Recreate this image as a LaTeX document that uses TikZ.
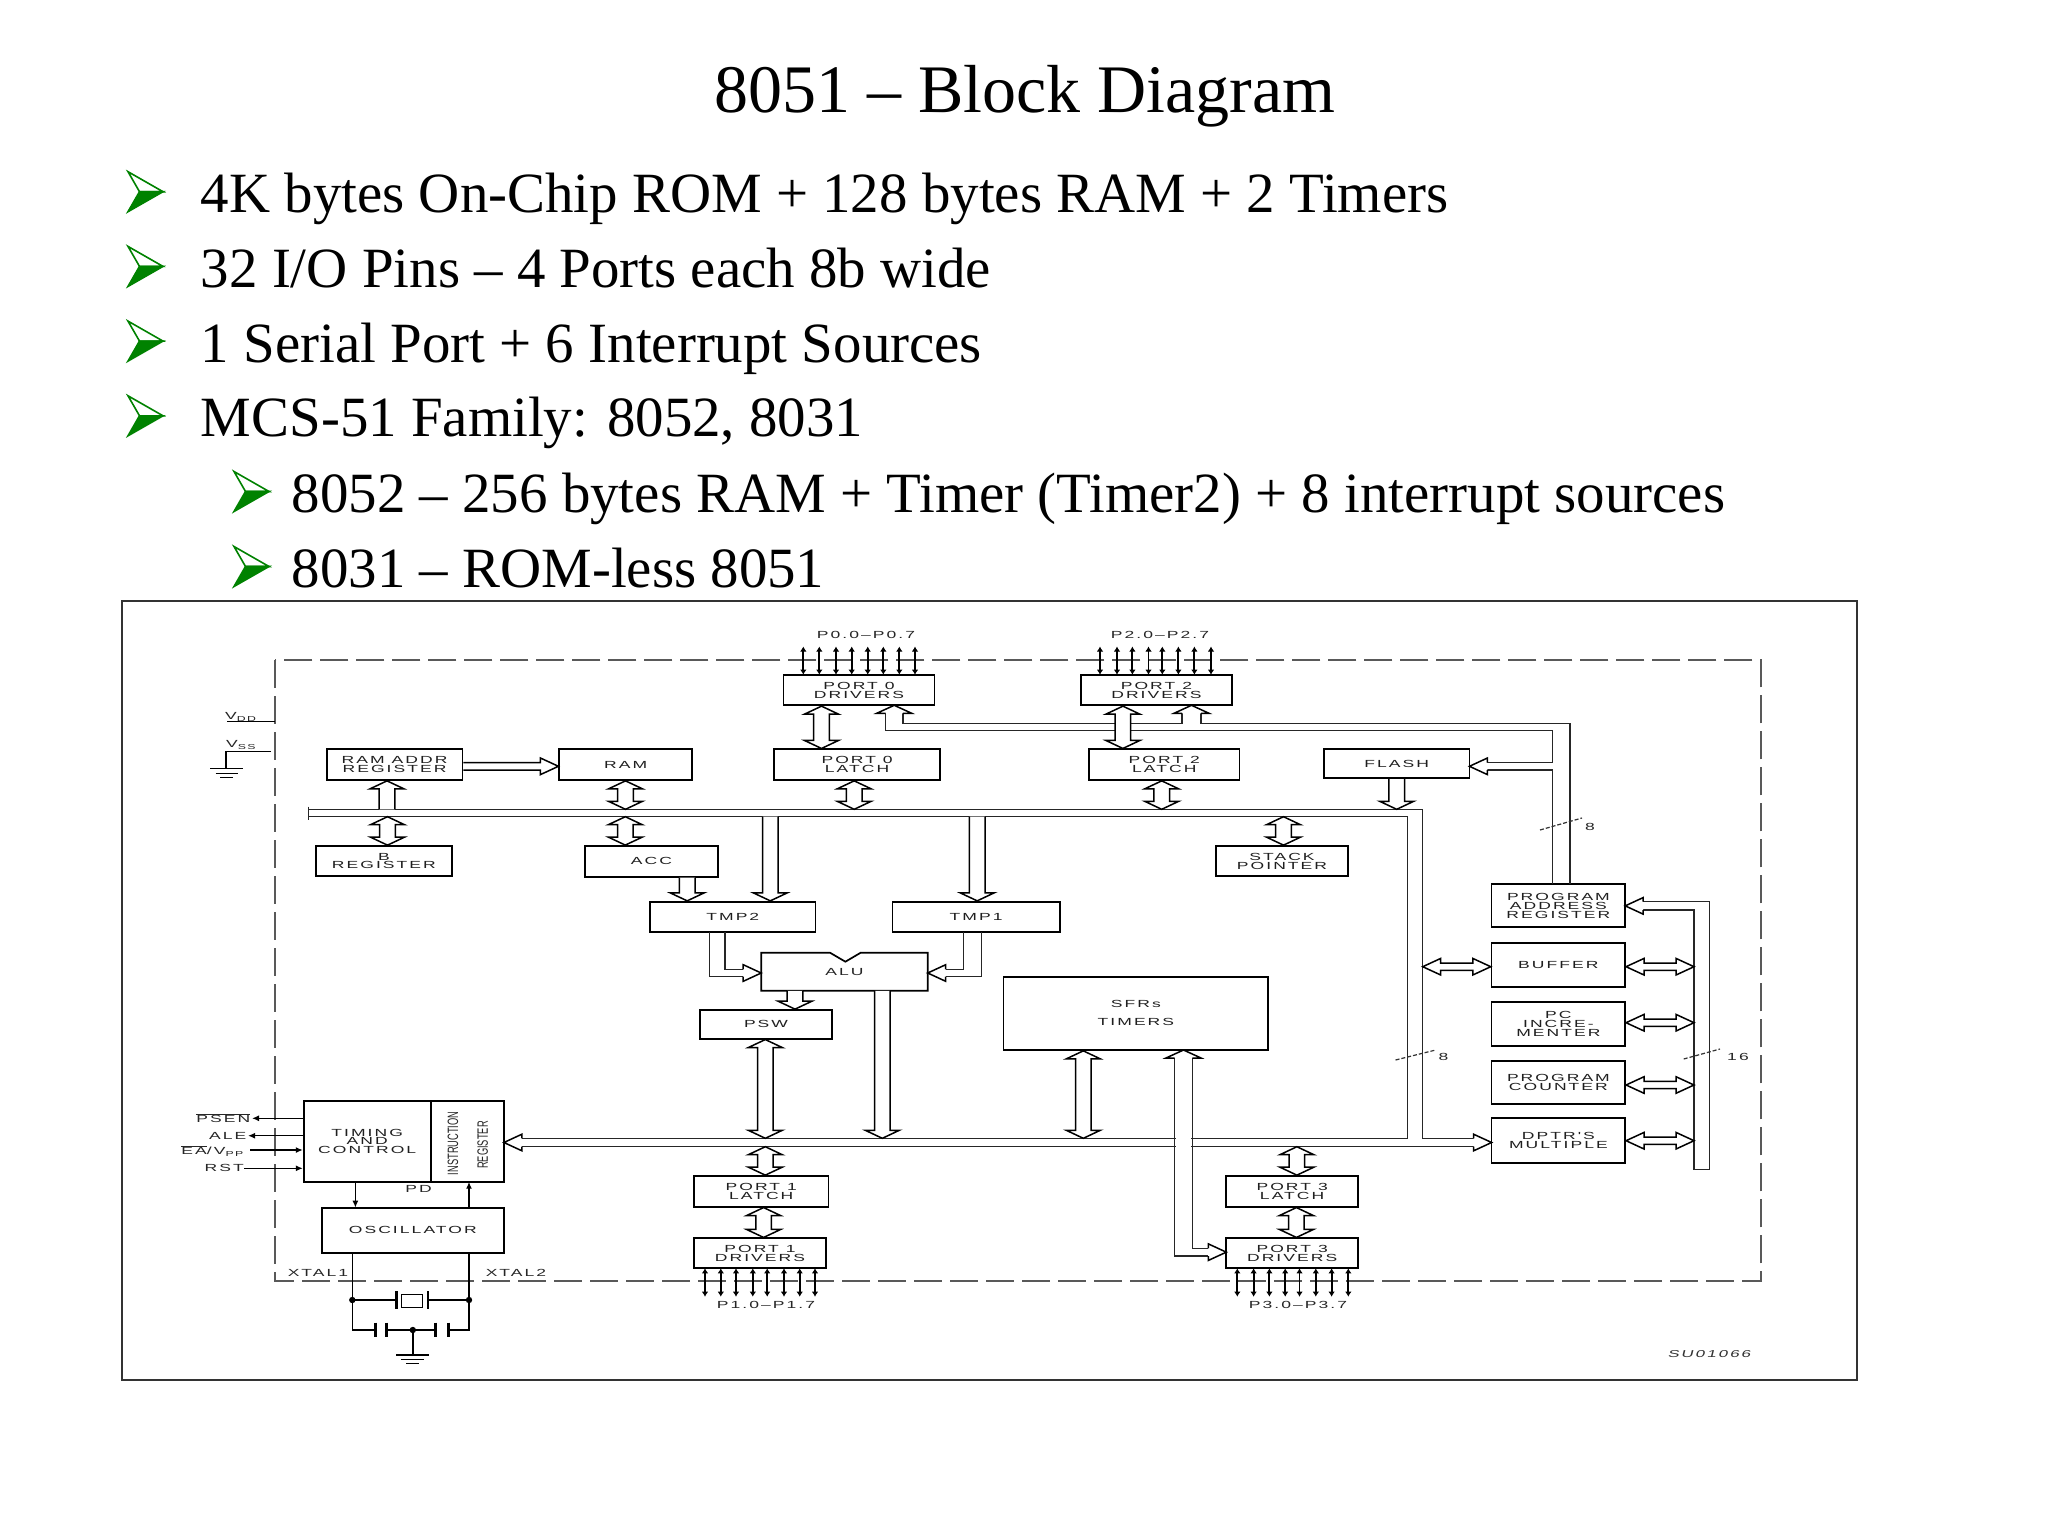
\documentclass[tikz,border=0pt]{standalone}
\usepackage{fontspec}
\setmainfont{Liberation Serif}
\newfontfamily\diagfont[FakeStretch=1.7,LetterSpace=20]{Liberation Sans}
\newfontfamily\diagitfont[FakeStretch=1.7,LetterSpace=20,FakeSlant=0.25]{Liberation Sans}
\newfontfamily\narrowfont[FakeStretch=0.62]{Liberation Sans}
\usetikzlibrary{arrows.meta,calc}
\definecolor{bgreen}{RGB}{0,130,0}
\newcommand\dgf{\diagfont\fontsize{10.3}{8.9}\selectfont}
\newcommand\dgif{\diagitfont\fontsize{10}{8.8}\selectfont}
\newcommand\irf{\narrowfont\fontsize{15}{15}\selectfont}
\newcommand\titf{\fontsize{68}{70}\selectfont}
\newcommand\bulf{\fontsize{56.9}{60}\selectfont}
\newcommand\ovl[1]{$\overline{\mbox{#1}}$}
% hollow arrow dimensions
\newcommand\avs{7.8pt}\newcommand\avh{17pt}\newcommand\avl{8pt}
\newcommand\ahs{3.7pt}\newcommand\ahh{8.3pt}\newcommand\ahl{18pt}
\tikzset{
  box/.style={draw=black,line width=1.7pt,fill=white,inner sep=0pt,font=\dgf,align=center,text=black!88},
  hol/.style={draw=black,line width=1.5pt,fill=white,line join=miter},
  busl/.style={draw=black!85,line width=1.4pt},
  pinar/.style={line width=1.9pt,{Latex[length=5pt,width=6.5pt]}-{Latex[length=5pt,width=6.5pt]}},
  sig/.style={line width=1.4pt},
  lbl/.style={font=\dgf,text=black!85,inner sep=0pt},
  slashmk/.style={line width=1.2pt,dash pattern=on 4pt off 2pt,black!80},
  dashfr/.style={line width=1.8pt,dash pattern=on 28pt off 8pt,black!65},
}
% vertical double-headed hollow arrow: x, top, bottom
\newcommand\VBI[3]{\filldraw[hol] let \p1=(#2), \p2=(#3) in
 ({#1pt-\avs},{\y1-\avl}) -- ({#1pt-\avh},{\y1-\avl}) -- ({#1pt},{\y1}) -- ({#1pt+\avh},{\y1-\avl}) -- ({#1pt+\avs},{\y1-\avl})
 -- ({#1pt+\avs},{\y2+\avl}) -- ({#1pt+\avh},{\y2+\avl}) -- ({#1pt},{\y2}) -- ({#1pt-\avh},{\y2+\avl}) -- ({#1pt-\avs},{\y2+\avl}) -- cycle;}
% head at bottom only
\newcommand\VDN[3]{\filldraw[hol] let \p1=(#2), \p2=(#3) in
 ({#1pt-\avs},{\y1}) -- ({#1pt-\avs},{\y2+\avl}) -- ({#1pt-\avh},{\y2+\avl}) -- ({#1pt},{\y2}) -- ({#1pt+\avh},{\y2+\avl}) -- ({#1pt+\avs},{\y2+\avl}) -- ({#1pt+\avs},{\y1});}
% head at top only
\newcommand\VUP[3]{\filldraw[hol] let \p1=(#2), \p2=(#3) in
 ({#1pt-\avs},{\y2}) -- ({#1pt-\avs},{\y1-\avl}) -- ({#1pt-\avh},{\y1-\avl}) -- ({#1pt},{\y1}) -- ({#1pt+\avh},{\y1-\avl}) -- ({#1pt+\avs},{\y1-\avl}) -- ({#1pt+\avs},{\y2});}
% horizontal double-headed: y, left, right
\newcommand\HBI[3]{\filldraw[hol] let \p1=(#2), \p2=(#3) in
 ({\x1+\ahl},{-#1pt+\ahs}) -- ({\x1+\ahl},{-#1pt+\ahh}) -- ({\x1},{-#1pt}) -- ({\x1+\ahl},{-#1pt-\ahh}) -- ({\x1+\ahl},{-#1pt-\ahs})
 -- ({\x2-\ahl},{-#1pt-\ahs}) -- ({\x2-\ahl},{-#1pt-\ahh}) -- ({\x2},{-#1pt}) -- ({\x2-\ahl},{-#1pt+\ahh}) -- ({\x2-\ahl},{-#1pt+\ahs}) -- cycle;}
% horizontal, head at right only
\newcommand\HRT[3]{\filldraw[hol] let \p1=(#2), \p2=(#3) in
 ({\x1},{-#1pt+\ahs}) -- ({\x2-\ahl},{-#1pt+\ahs}) -- ({\x2-\ahl},{-#1pt+\ahh}) -- ({\x2},{-#1pt}) -- ({\x2-\ahl},{-#1pt-\ahh}) -- ({\x2-\ahl},{-#1pt-\ahs}) -- ({\x1},{-#1pt-\ahs});}
% loose heads: tip x, tip y, shaft half width
\newcommand\HHR[3]{\filldraw[hol] ({#1-18},{#2-#3}) -- ({#1-18},{#2-8.3}) -- (#1,#2) -- ({#1-18},{#2+8.3}) -- ({#1-18},{#2+#3});}
\newcommand\HHL[3]{\filldraw[hol] ({#1+18},{#2-#3}) -- ({#1+18},{#2-8.3}) -- (#1,#2) -- ({#1+18},{#2+8.3}) -- ({#1+18},{#2+#3});}
\newcommand\VHU[3]{\filldraw[hol] ({#1-#3},{#2+8}) -- ({#1-17.5},{#2+8}) -- (#1,#2) -- ({#1+17.5},{#2+8}) -- ({#1+#3},{#2+8});}
% bullet arrowhead: left x, baseline y
\newcommand\bularrow[2]{%
 \filldraw[fill=white,draw=bgreen,line width=1.6pt,line join=miter] (#1,{#2-41}) -- ({#1+35},{#2-21}) -- ({#1+11.5},{#2-21}) -- cycle;
 \filldraw[fill=bgreen,draw=bgreen,line width=1.6pt,line join=miter] (#1,{#2-1}) -- ({#1+35},{#2-21}) -- ({#1+11.5},{#2-21}) -- cycle;}
\begin{document}
\begin{tikzpicture}[x=1pt,y=-1pt]
\useasboundingbox (0,0) rectangle (2048,1536);
\fill[white] (0,0) rectangle (2048,1536);

% ---------- title and bullets ----------
\node[anchor=base,font=\titf,inner sep=0pt] (title) at (1025,112.6) {8051 – Block Diagram};
\bularrow{128}{212.7}
\node[anchor=base west,font=\bulf,inner sep=0pt] (b1) at (200.7,212.7) {4K bytes On-Chip ROM + 128 bytes RAM + 2 Timers};
\bularrow{128}{287.4}
\node[anchor=base west,font=\bulf,inner sep=0pt] (b2) at (200.7,287.4) {32 I/O Pins – 4 Ports each 8b wide};
\bularrow{128}{362.1}
\node[anchor=base west,font=\bulf,inner sep=0pt] (b3) at (200.7,362.1) {1 Serial Port + 6 Interrupt Sources};
\bularrow{128}{436.8}
\node[anchor=base west,font=\bulf,inner sep=0pt] (b4) at (200.7,436.8) {MCS-51 Family: 8052, 8031};
\bularrow{234}{512.5}
\node[anchor=base west,font=\bulf,inner sep=0pt] (b5) at (291.6,512.5) {8052 – 256 bytes RAM + Timer (Timer2) + 8 interrupt sources};
\bularrow{234}{587.5}
\node[anchor=base west,font=\bulf,inner sep=0pt] (b6) at (291.6,587.5) {8031 – ROM-less 8051};

% ---------- frames ----------
\draw[line width=2.2pt,black!80] (122,601) rectangle (1856.7,1380.3);
\draw[dashfr] (275,660) rectangle (1761,1280.7);

% ---------- boxes ----------
\node[box,minimum width=135.8pt,minimum height=30.7pt] (ramaddr) at (394.6,764.65) {RAM ADDR\\REGISTER};
\node[box,minimum width=132.7pt,minimum height=30.7pt] (ram) at (625.65,764.65) {RAM};
\node[box,minimum width=166.4pt,minimum height=30.7pt] (p0lat) at (857.1,764.65) {PORT 0\\LATCH};
\node[box,minimum width=150.6pt,minimum height=30.7pt] (p2lat) at (1164.3,764.65) {PORT 2\\LATCH};
\node[box,minimum width=145.4pt,minimum height=29pt] (flash) at (1396.7,763.8) {FLASH};
\node[box,minimum width=151.2pt,minimum height=30.6pt] (p0drv) at (859,690) {PORT 0\\DRIVERS};
\node[box,minimum width=151.2pt,minimum height=30.6pt] (p2drv) at (1156.4,690) {PORT 2\\DRIVERS};
\node[box,minimum width=135.8pt,minimum height=30pt] (breg) at (383.9,861) {B\\REGISTER};
\node[box,minimum width=132.8pt,minimum height=30.7pt] (acc) at (651.4,861.3) {ACC};
\node[box,minimum width=132pt,minimum height=30pt] (sp) at (1282,861) {STACK\\POINTER};
\node[box,minimum width=165.6pt,minimum height=30.6pt] (tmp2) at (732.8,917) {TMP2};
\node[box,minimum width=167.2pt,minimum height=30.6pt] (tmp1) at (976.1,917) {TMP1};
\filldraw[draw=black,line width=1.7pt,fill=white] (761.2,952.7) -- (830,952.7) -- (845.4,961.7) -- (860.7,952.7) -- (927.7,952.7) -- (927.7,990.7) -- (761.2,990.7) -- cycle;
\node[lbl,minimum width=166.5pt,minimum height=38pt] (alu) at (844.45,971.7) {ALU};
\node[box,minimum width=132pt,minimum height=28.7pt] (psw) at (766,1024.35) {PSW};
\node[box,minimum width=264.8pt,minimum height=73.3pt] (sfr) at (1135.9,1013.35) {SFRs\\[9pt]TIMERS};
\node[box,minimum width=133.6pt,minimum height=43.3pt] (par) at (1558.4,905.65) {PROGRAM\\ADDRESS\\REGISTER};
\node[box,minimum width=133.6pt,minimum height=44.6pt] (buf) at (1558.4,965) {BUFFER};
\node[box,minimum width=133.6pt,minimum height=43.4pt] (pcinc) at (1558.4,1024) {PC\\INCRE-\\MENTER};
\node[box,minimum width=133.6pt,minimum height=43.3pt] (pc) at (1558.4,1082.35) {PROGRAM\\COUNTER};
\node[box,minimum width=133.6pt,minimum height=45pt] (dptr) at (1558.4,1140.8) {DPTR'S\\MULTIPLE};
\node[box,minimum width=127pt,minimum height=80.7pt] (tcl) at (367.2,1141.35) {TIMING\\AND\\CONTROL};
\node[box,minimum width=73.2pt,minimum height=80.7pt] (ir) at (467.3,1141.35) {};
\node[rotate=90,font=\irf,inner sep=0pt,text=black!85] (irt1) at (453,1143.3) {INSTRUCTION};
\node[rotate=90,font=\irf,inner sep=0pt,text=black!85] (irt2) at (482.8,1145) {REGISTER};
\node[box,minimum width=182.2pt,minimum height=45pt] (osc) at (412.8,1230.2) {OSCILLATOR};
\node[box,minimum width=134.4pt,minimum height=30.7pt] (p1lat) at (761.2,1191.35) {PORT 1\\LATCH};
\node[box,minimum width=132pt,minimum height=30pt] (p1drv) at (760,1253.3) {PORT 1\\DRIVERS};
\node[box,minimum width=131.7pt,minimum height=30.7pt] (p3lat) at (1292.15,1191.35) {PORT 3\\LATCH};
\node[box,minimum width=131.7pt,minimum height=30pt] (p3drv) at (1292.15,1253.3) {PORT 3\\DRIVERS};

% ---------- bus reference coordinates ----------
\coordinate (busU) at (0,809.3);
\coordinate (busL) at (0,816.7);
\coordinate (bbU) at (0,1138.3);
\coordinate (bbL) at (0,1146.7);
\coordinate (busR) at (1422.7,0);
\coordinate (rbus) at (1694,0);

% ---------- main internal bus ----------
\draw[busl] (308.7,809.3) -- (1422.7,809.3) -- (1422.7,1138.3) -- (1473.6,1138.3);
\draw[busl] (308.7,816.7) -- (1407.4,816.7) -- (1407.4,1138.3) -- (521.9,1138.3);
\draw[busl] (521.9,1146.7) -- (1473.6,1146.7);
\draw[busl] (308.7,806.5) -- (308.7,819.5);
\HHL{503.9}{1142.5}{4.2}
\HHR{1491.6}{1142.5}{4.2}

% ---------- port 0 / port 2 address bus from PAR ----------
\draw[busl] (902.8,713.3) -- (902.8,723.3) -- (1182,723.3) -- (1182,713.3);
\draw[busl] (1201,713.3) -- (1201,723.3) -- (1570,723.3) -- (1570,884);
\draw[busl] (885.6,713.3) -- (885.6,730.7) -- (1552.5,730.7) -- (1552.5,762.7) -- (1487.4,762.7);
\draw[busl] (1487.4,770) -- (1552.5,770) -- (1552.5,884);
\VHU{894.2}{705.3}{8.6}
\VHU{1191.5}{705.3}{9.5}
\HHL{1469.4}{766.3}{3.7}

% ---------- right vertical bus ----------
\draw[busl] (1643.2,901.7) -- (1709.4,901.7) -- (1709.4,1169.3) -- (1694,1169.3) -- (1694,910) -- (1643.2,910);
\HHL{1625.2}{905.85}{4.15}

% ---------- TMP -> ALU ----------
\draw[busl] (709.6,932.3) -- (709.6,976.7) -- (743.2,976.7);
\draw[busl] (724.9,932.3) -- (724.9,969.3) -- (743.2,969.3);
\HHR{761.2}{973}{3.7}
\draw[busl] (981.3,932.3) -- (981.3,976.7) -- (945.7,976.7);
\draw[busl] (963.3,932.3) -- (963.3,969.3) -- (945.7,969.3);
\HHL{927.7}{973}{3.7}

% ---------- SFR -> PORT 3 drivers ----------
\fill[white] (1176,1135) rectangle (1191,1150);
\draw[busl] (1174.6,1058) -- (1174.6,1256) -- (1208.3,1256);
\draw[busl] (1192.5,1058) -- (1192.5,1248.3) -- (1208.3,1248.3);
\VHU{1183.5}{1050}{8.95}
\HHR{1226.3}{1252.15}{3.85}

% ---------- hollow bus arrows ----------
\VUP{387}{ramaddr.south}{busU}
\VBI{387.5}{busL}{breg.north}
\VBI{625.5}{ram.south}{busU}
\VBI{625.3}{busL}{acc.north}
\VBI{821.5}{p0drv.south}{p0lat.north}
\VBI{854.2}{p0lat.south}{busU}
\VDN{770.3}{busL}{tmp2.north}
\VDN{977.2}{busL}{tmp1.north}
\VBI{1122.9}{p2drv.south}{p2lat.north}
\VBI{1161.7}{p2lat.south}{busU}
\VBI{1283.5}{busL}{sp.north}
\VDN{1396.7}{flash.south}{busU}
\VDN{687.2}{acc.south}{tmp2.north}
\VDN{795}{alu.south}{psw.north}
\VBI{765.3}{psw.south}{bbU}
\VDN{882.3}{alu.south}{bbU}
\VBI{1083.3}{sfr.south}{bbU}
\VBI{765.3}{bbL}{p1lat.north}
\VBI{763.6}{p1lat.south}{p1drv.north}
\VBI{1296.9}{bbL}{p3lat.north}
\VBI{1296.4}{p3lat.south}{p3drv.north}
\HRT{766.3}{ramaddr.east}{ram.west}
\HBI{966.7}{busR}{buf.west}
\HBI{966.7}{buf.east}{rbus}
\HBI{1022.7}{pcinc.east}{rbus}
\HBI{1085}{pc.east}{rbus}
\HBI{1140.7}{dptr.east}{rbus}

% ---------- bus width marks ----------
\draw[slashmk] (1540,830) -- (1582,818);
\node[lbl,anchor=west] (w8a) at (1585,827) {8};
\draw[slashmk] (1395.5,1060) -- (1435.7,1050);
\node[lbl,anchor=west] (w8b) at (1438.5,1057) {8};
\draw[slashmk] (1683.7,1059) -- (1720,1049);
\node[lbl,anchor=west] (w16) at (1727,1057) {16};

% ---------- port pins ----------
\foreach \px in {803.3,819.3,836,851.7,867.7,883.3,899.3,915} \draw[pinar] (\px,646.5) -- (\px,674.7);
\foreach \px in {1100,1117,1132.4,1148.5,1162.3,1178.4,1194.4,1211} \draw[pinar] (\px,646.5) -- (\px,674.7);
\foreach \px in {705,720.8,736,752.8,767.2,784,799.7,815} \draw[pinar] (\px,1268.3) -- (\px,1296.7);
\foreach \px in {1237.3,1253.6,1269.4,1285.2,1299.5,1315.8,1331.6,1348.3} \draw[pinar] (\px,1268.3) -- (\px,1296.7);
\node[lbl] (lp0) at (866,635) {P0.0–P0.7};
\node[lbl] (lp2) at (1160,635) {P2.0–P2.7};
\node[lbl] (lp1) at (766,1305) {P1.0–P1.7};
\node[lbl] (lp3) at (1298,1305) {P3.0–P3.7};

% ---------- supply ----------
\draw[sig] (227,721.7) -- (275,721.7);
\node[lbl,anchor=base west] (vdd) at (225,719.5) {V\textsubscript{DD}};
\draw[sig] (271,751.7) -- (226,751.7) -- (226,768.3);
\node[lbl,anchor=base west] (vss) at (226,747.5) {V\textsubscript{SS}};
\draw[sig] (210,768.3) -- (243,768.3);
\draw[sig] (215.7,773.3) -- (237.9,773.3);
\draw[sig] (220.3,777.6) -- (232.9,777.6);

% ---------- control signals ----------
\coordinate (sPSEN) at (252,1118.3);
\coordinate (sALE) at (248,1135.7);
\coordinate (sEA) at (250,1150);
\coordinate (sRST) at (244.4,1168.3);
\draw[sig,-{Latex[length=7pt,width=6pt]}] (sPSEN -| tcl.west) -- (sPSEN);
\draw[sig,-{Latex[length=7pt,width=6pt]}] (sALE -| tcl.west) -- (sALE);
\draw[sig,-{Latex[length=7pt,width=6pt]}] (sEA) -- (sEA -| tcl.west);
\draw[sig,-{Latex[length=7pt,width=6pt]}] (sRST) -- (sRST -| tcl.west);
\node[lbl,anchor=east] (lpsen) at (250.5,1118.3) {\ovl{PSEN}};
\node[lbl,anchor=east] (lale) at (246.5,1135.7) {ALE};
\node[lbl,anchor=east] (lea) at (244,1151) {\ovl{EA}/V\textsubscript{PP}};
\node[lbl,anchor=east] (lrst) at (244,1168.3) {RST};

% ---------- timing <-> oscillator ----------
\draw[sig,-{Latex[length=7pt,width=6pt]}] (355.4,1181.7) -- (355.4,1207.7);
\draw[sig,-{Latex[length=7pt,width=6pt]}] (469,1207.7) -- (469,1181.7);
\node[lbl] (pd) at (418.5,1189.3) {PD};

% ---------- crystal ----------
\draw[sig] (352.3,1252.7) -- (352.3,1330) -- (375.6,1330);
\draw[sig] (469,1252.7) -- (469,1330) -- (448.4,1330);
\draw[sig] (386.7,1330) -- (435.7,1330);
\draw[line width=2.6pt] (375.6,1322.7) -- (375.6,1337.3);
\draw[line width=2.6pt] (386.7,1322.7) -- (386.7,1337.3);
\draw[line width=2.6pt] (435.7,1322.7) -- (435.7,1337.3);
\draw[line width=2.6pt] (448.4,1322.7) -- (448.4,1337.3);
\draw[sig] (352.3,1300) -- (396.3,1300);
\draw[sig] (428,1300) -- (469,1300);
\draw[line width=2.6pt] (396.3,1291) -- (396.3,1309);
\draw[line width=2.6pt] (428,1291) -- (428,1309);
\draw[line width=1.2pt] (401.3,1294.5) rectangle (422.3,1307.5);
\fill (352.3,1300) circle (3.2pt);
\fill (469,1300) circle (3.2pt);
\fill (412.8,1330) circle (3.2pt);
\draw[line width=2pt] (412.8,1330) -- (412.8,1355);
\draw[sig] (396.3,1355) -- (429.2,1355);
\draw[sig] (401.3,1359.3) -- (424.2,1359.3);
\draw[sig] (406.3,1363.5) -- (418.5,1363.5);
\node[lbl] (x1) at (318,1273.3) {XTAL1};
\node[lbl] (x2) at (516,1273.3) {XTAL2};

% ---------- figure id ----------
\node[font=\dgif,text=black!80,inner sep=0pt] (fid) at (1709,1354) {SU01066};
\end{tikzpicture}
\end{document}
